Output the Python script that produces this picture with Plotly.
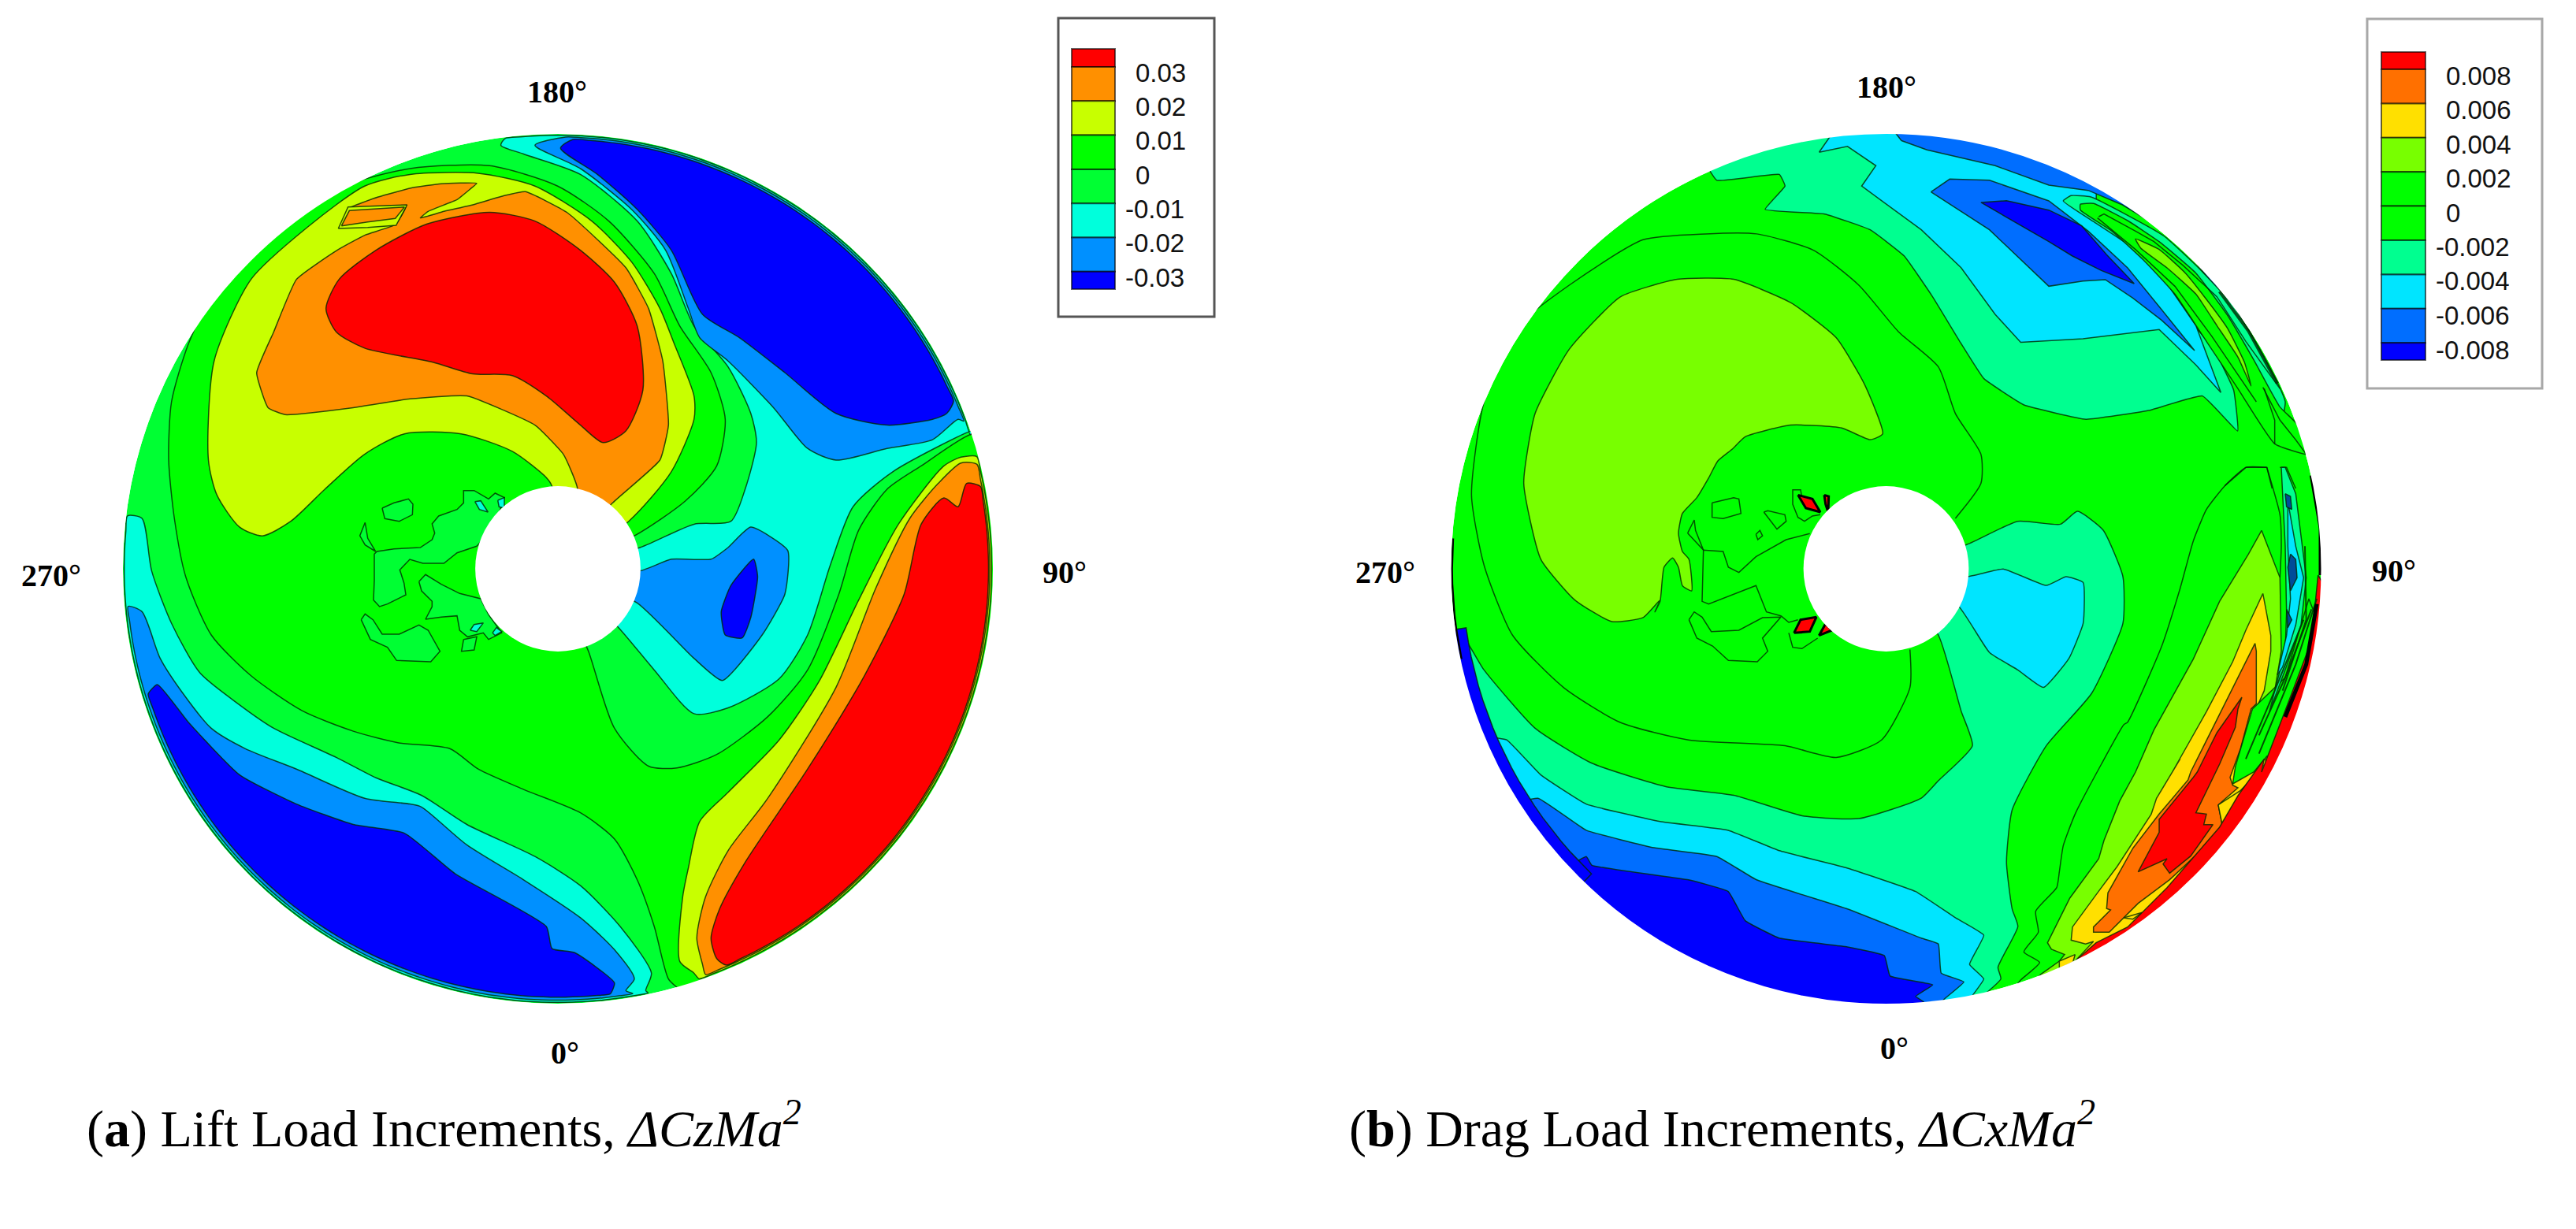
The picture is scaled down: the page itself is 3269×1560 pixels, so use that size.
import numpy as np
import plotly.graph_objects as go

W, H = 3269, 1560
# ---- digitising frames: crop name -> (left, top, x-scale, y-scale) of the reference crop
FRAMES = {"z1": (160, 140, .7207, .74), "z2": (1840, 140, .7207, .74),
          "z7": (420, 570, 1/3, 1/3), "z8": (2100, 570, 1/3, 1/3), "z9": (2600, 200, 1/3, 1/3),
          "z10": (2700, 560, 1/3, 1/3), "z11": (2500, 900, 1/3, 1/3), "z12": (400, 190, 1/3, 1/3)}
CENTER_A, CENTER_B, RADIUS = (708, 722), (2393.5, 722), 552
HOLE_R = 0.19

# ---- legends
lift_labels = ["0.03", "0.02", "0.01", "0", "-0.01", "-0.02", "-0.03"]
lift_colors = ["#FF0000", "#FF9000", "#C8FF00", "#00FF00", "#00FF33", "#00FFDC", "#0090FF", "#0000FF"]
drag_labels = ["0.008", "0.006", "0.004", "0.002", "0", "-0.002", "-0.004", "-0.006", "-0.008"]
drag_colors = ["#FF0000", "#FF7000", "#FFE000", "#78FF00", "#00FF00", "#00FF00", "#00FF90", "#00E5FF", "#006EFF", "#0000FF"]
C_R, C_O, C_Y, C_G0, C_G1, C_C, C_M, C_B = lift_colors
D_R, D_O, D_Y, D_L, D_G, _, D_T, D_C, D_M, D_B = drag_colors

# ---- panel (a) contour boundaries: segments are (frame, points) or ("rim", from_deg, to_deg, r)
a_center = [("z1", [(75,600),(80,500),(110,400),(160,300),(260,190),(380,130),(500,100),(640,95),(760,130),(850,190),(930,280),(975,370),(1030,450),(1055,530),(1040,610),(985,670),(895,730),(760,787),(815,930),(860,1060),(920,1125),(970,1128),(1040,1105),(1130,1040),(1200,960),(1255,830),(1290,720),(1340,650),(1400,610),(1490,555)]),
            ("rim", 17, -74, 1.03),
            ("z1", [(975,1510),(955,1490),(930,1400),(900,1320),(860,1250),(800,1205),(700,1165),(620,1130),(570,1095),(480,1085),(400,1065),(310,1030),(220,970),(150,900),(105,800),(85,700)])]
a_w1 = [("z7", [(195,225),(240,205),(295,190),(312,210),(310,250),(260,275),(205,265)])]
a_w2 = [("z7", [(555,370),(480,395),(430,435),(350,435),(300,420),(262,460),(278,510),(285,555),(215,590),(185,600),(162,575),(165,500),(165,400),(175,390),(240,380),(340,375),(385,345),(395,320),(385,285),(410,255),(480,230),(505,205),(505,158),(545,158),(600,190),(625,168),(660,185),(620,300)])]
a_w2b = [("z7", [(130,280),(140,340),(170,390),(130,365),(110,330)])]
a_w3 = [("z7", [(335,505),(360,478),(420,515),(490,550),(570,570),(600,630),(650,700),(600,725),(580,700),(520,715),(490,690),(480,635),(420,640),(360,648),(385,600),(385,580),(345,540)])]
a_w4 = [("z7", [(115,650),(130,628),(160,650),(195,705),(260,705),(335,670),(370,690),(415,770),(380,810),(250,805),(215,755),(150,725)])]
a_w5 = [("z7", [(505,725),(555,715),(545,765),(497,770)])]
a_dots = [[("z7", [(548,200),(570,197),(598,240),(565,230)])], [("z7", [(635,195),(660,185),(660,225),(640,220)])],
          [("z7", [(530,690),(545,668),(580,662),(555,695)])], [("z7", [(615,700),(630,680),(650,695),(625,710)])]]
a_yellow = [("z1", [(145,600),(155,430),(220,290),(320,200),(420,130),(500,110),(620,108),(720,130),(820,190),(890,260),(940,340),(965,400),(1000,490),(1000,530),(960,620),(885,705),(760,787),(750,645),(740,630),(680,585),(590,555),(490,555),(420,590),(350,650),(290,705),(240,730),(200,715),(160,660)])]
a_orange = [("z1", [(230,450),(260,380),(300,290)]),
            ("z12", [(80,385),(190,325),(305,285),(345,215),(130,222),(240,180),(370,145),(480,130),(615,128),(590,150),(540,190),(430,235),(400,260),(490,235),(600,210),(720,175),(800,160),(960,240)]),
            ("z1", [(880,270),(920,340),(945,430),(955,540),(940,600),(855,675),(760,787),(795,650),(770,590),(720,540),(600,490),(500,495),(400,510),(280,522),(250,510)])]
a_strip = [("z12", [(88,300),(125,218),(350,210),(308,288),(200,296)])]
a_sliver = [("z12", [(100,290),(130,232),(340,218),(305,262),(200,275)])]
a_red = [("z1", [(352,340),(375,290),(440,240),(530,195),(640,175),(720,190),(800,240),(860,295),(900,370),(910,480),(880,550),(840,570),(800,540),(740,490),(680,455),(610,452),(540,432),(420,408),(370,380)])]
a_cyan_tr = [("z1", [(660,60),(700,75),(800,110),(900,190),(960,280),(1000,370),(1060,440),(1100,520),(1110,570),(1090,650),(1065,705),(1000,710),(905,750),(760,787),(865,885),(930,960),(1000,1035),(1060,1025),(1150,975),(1200,900),(1240,780),(1280,680),(1350,620),(1490,550)]),
             ("rim", 18, 97, .997)]
a_mid_tr = [("z1", [(720,60),(800,100),(890,170),(950,240),(990,340),(1010,390),(1060,430),(1140,510),(1200,580),(1250,600),(1340,580),(1420,565),(1465,530)]),
            ("rim", 20, 89, .993)]
a_blue_tr = [("z1", [(765,65),(830,110),(900,170),(960,240),(1015,350),(1080,390),(1160,450),(1250,520),(1340,540),(1420,530),(1445,520)]),
             ("rim", 23, 88, .988)]
a_mid_h = [("z1", [(905,790),(960,770),(1030,770),(1060,750),(1100,715),(1165,755),(1160,830),(1120,900),(1050,978),(1000,940),(900,845),(760,787)])]
a_blue_h = [("z1", [(1105,770),(1112,800),(1100,870),(1085,905),(1055,900),(1048,860),(1065,815)])]
a_lr_y = [("rim", 15, -71, .997),
          ("z1", [(1000,1480),(975,1460),(980,1350),(990,1300),(1010,1220),(1060,1170),(1150,1080),(1220,980),(1290,840),(1360,710),(1440,610),(1470,595)])]
a_lr_o = [("rim", 14, -70, .993),
          ("z1", [(1015,1465),(1005,1420),(1020,1350),(1060,1270),(1130,1180),(1250,990),(1320,820),(1380,700),(1430,640),(1470,605)])]
a_lr_r = [("rim", 11, -67, .99),
          ("z1", [(1040,1455),(1030,1420),(1045,1370),(1090,1290),(1200,1130),(1300,970),(1370,830),(1400,710),(1440,665),(1465,680),(1480,640)])]
a_ll_c = [("z1", [(28,700),(45,790),(80,880),(130,965),(200,1020),(260,1060),(370,1110),(440,1145),(520,1175),(600,1225),(720,1280),(800,1330),(870,1400),(925,1480),(915,1510)]),
          ("rim", -78, -187, .997)]
a_ll_m = [("z1", [(28,860),(60,940),(100,1000),(150,1060),(210,1095),(300,1130),(420,1180),(500,1190),(520,1195),(600,1260),(700,1320),(800,1385),(860,1440),(895,1490),(880,1510)]),
          ("rim", -80, -175, .992)]
a_ll_b = [("z1", [(55,985),(110,1050),(200,1140),(300,1190),(400,1225),(490,1240),(580,1310),(740,1400),(750,1438),(790,1445),(860,1497)]),
          ("rim", -83, -163, .985)]

# ---- panel (b) contour boundaries
b_lobe = [("z2", [(130,640),(150,520),(210,410),(300,320),(400,290),(500,290),(600,330),(680,390),(730,470),(762,555),(740,565),(690,545),(600,540),(520,560)]),
          ("z8", [(295,0),(240,45),(205,110),(160,185),(105,245),(90,320),(105,390),(130,420),(140,540),(105,520),(90,450),(68,415),(35,450),(20,580),(0,620)]),
          ("z2", [(370,840),(340,870),(285,877),(220,840),(160,770)])]
b_line0 = [("z2", [(810,925),(810,990),(760,1080),(680,1110),(590,1090),(420,1080),(300,1050),(200,990),(110,900),(60,780),(38,660),(60,500),(120,370),(210,300),(340,222),(450,212),(540,212),(640,240),(720,300),(790,380),(860,440),(890,520),(935,590),(935,640),(890,700)])]
b_teal_top = [("z2", [(470,120),(580,110),(590,130),(555,170),(660,178),(740,205),(800,250),(850,320),(900,400),(940,460),(1010,505),(1120,530),(1230,515),(1325,490),(1387,550),(1380,480),(1345,410),(1240,290),(1130,200)]),
              ("rim", 64, 114, 1.03)]
b_teal_low = [("z2", [(20,900),(60,960),(150,1060),(250,1120),(380,1160),(500,1175),(620,1210),(720,1215),(830,1180),(860,1150),(920,1090),(900,1030),(860,900),(768,786),(910,745),(1000,705),(1075,710),(1105,688),(1150,720),(1185,800),(1185,880),(1130,1000),(1050,1090),(990,1200),(980,1290),(990,1370),(1000,1400),(965,1470),(970,1490),(920,1535)]),
              ("rim", -79, -171, 1.03)]
b_cyan_low = [("z2", [(70,1075),(100,1080),(160,1140),(240,1190),(370,1220),(490,1235),(580,1270),(700,1300),(820,1340),(890,1385),(940,1415),(915,1465),(940,1490),(915,1525)]),
              ("rim", -80, -158, 1.03)]
b_blue_low = [("z2", [(155,1180),(240,1235),(360,1265),(470,1280),(540,1320),(700,1370),(830,1420),(860,1430),(865,1480),(905,1495),(870,1525)]),
              ("rim", -84, -148, 1.03)]
b_dark_low = [("z2", [(240,1280),(250,1295),(420,1320),(490,1340),(520,1390),(580,1420),(700,1435),(765,1450),(775,1485),(850,1500),(820,1520),(835,1530),(810,1545)]),
              ("rim", -87, -137, 1.03)]
b_dark_rim = [("rim", 188, 226, 1.03), ("rim", 226, 188, .975)]
b_cyan_h = [("z2", [(910,800),(975,787),(1050,815),(1085,800),(1115,810),(1115,880),(1090,940),(1045,990),(1000,960),(950,930),(895,850),(768,786)])]
b_cyan_top = [("z2", [(650,72),(700,62),(750,95),(725,130),(830,205),(900,270),(960,350),(1005,398)]),
              ("z9", [(130,690),(280,672),(420,655),(560,790),(655,895),(560,640),(450,480),(300,320),(180,230)]),
              ("rim", 62, 96, 1.03)]
b_blue_top = [("z2", [(795,52),(840,68),(960,95)]), ("z9", [(0,105),(150,125),(280,180),(430,270),(560,400),(640,500)]), ("rim", 40, 90, 1.03)]
b_blue_w = [("z2", [(847,140),(880,118),(950,120)]), ("z9", [(0,165),(150,280),(300,420),(430,580),(555,735),(430,620),(320,535),(215,465),(130,470),(0,490)]), ("z2", [(950,205)])]
b_dark_w = [("z2", [(935,158),(980,155)]), ("z9", [(0,200),(125,260),(220,370),(325,480),(200,430),(90,375),(0,320)]), ("z2", [(1000,195)])]
b_w90 = [("z9", [(55,165),(85,145),(160,150),(300,220),(440,300),(570,420),(700,560),(820,760),(900,930),(860,1090),(790,930),(720,820),(650,720),(560,620),(430,450),(300,330),(180,250)])]
b_w00 = [("z9", [(120,178),(170,175),(300,240),(420,320),(560,440),(680,600),(780,770),(880,950),(945,1015),(990,1130),(860,1090),(720,880),(600,700),(480,520),(360,390),(240,280),(120,200)])]
b_w78 = [("z9", [(330,310),(420,350),(520,440),(600,540),(680,650),(745,780),(770,870),(720,760),(640,640),(560,520),(450,420),(350,345)])]
b_lines_w = [[("z9", [(185,230),(330,350),(480,490),(620,680),(790,930)])],
             [("z9", [(190,225),(210,215),(330,280),(400,320),(510,410),(640,530),(750,700),(880,880)])],
             [("z9", [(820,880),(860,1000),(860,1090)])],
             [("z9", [(815,875),(880,1000),(940,1075),(980,1130)])],
             [("z9", [(880,1180),(905,1180),(940,1260)])],
             [("z9", [(670,1250),(750,1180),(830,1180),(850,1260)])]]
b_line1 = [("z10", [(530,100),(450,100),(370,170),(300,260),(250,380),(200,560),(130,780),(0,1070)]),
           ("z11", [(585,60),(500,210),(400,400),(355,520),(340,620),(330,680),(250,770),(260,850),(205,925),(265,965),(195,1030),(170,1060)])]
b_line1b = [("z10", [(530,100),(580,280),(585,400),(580,520)])]
b_teal_rs = [("z10", [(585,100),(600,100),(640,200),(665,400),(680,520),(660,700),(600,870),(540,1030),(560,950),(600,800),(605,650),(600,400),(590,200)])]
b_cyan_rs = [("z10", [(610,230),(640,400),(670,520),(640,700),(590,860),(570,890),(605,740),(620,600),(610,400)])]
b_dark_rs = [[("z10", [(620,430),(640,450),(645,520),(620,570),(610,480)])], [("z10", [(605,640),(625,680),(610,710)])], [("z10", [(600,200),(620,210),(625,260),(605,250)])]]
b_l78 = [("z10", [(510,340),(460,430),(350,610),(250,830),(100,1100),(30,1260)]),
         ("z11", [(570,350),(510,500),(490,570),(380,720),(340,800),(295,890),(310,915),(360,935),(340,960),(270,1010),(240,1040)]),
         ("rim", -73, -25, 1.03),
         ("z10", [(560,950),(585,800),(580,520)])]
b_yellow = [("z10", [(515,580),(450,720),(400,840),(300,1030),(170,1260)]),
            ("z11", [(800,190),(710,340),(690,400),(560,600),(500,680),(390,830),(385,880),(440,895),(470,885),(400,960),(340,990),(340,960),(400,935)]),
            ("rim", -66, -30, 1.03),
            ("z10", [(480,1040),(520,950),(545,800),(545,740)])]
b_orange = [("z10", [(485,770),(420,900),(340,1060),(240,1260)]),
            ("z11", [(830,270),(720,400),(620,530),(525,700),(520,760),(535,765),(470,830),(470,850),(530,850),(545,835),(640,740),(760,650),(900,520),(960,440),(945,365),(1020,300),(1000,290),(990,260),(1030,150),(1070,0)]),
            ("z10", [(490,1000),(490,800)])]
b_red = [("z10", [(435,975),(340,1110),(265,1260)]),
         ("z11", [(850,260),(720,420),(720,470),(640,620),(750,570),(735,590),(760,625),(840,560),(925,440),(890,440),(900,400),(860,395),(950,210),(1010,70),(1020,0)])]
b_or_small = [("z11", [(585,795),(655,775),(620,800)])]
b_green_nest = [("z11", [(1075,0),(1010,220),(1000,285),(1080,240),(1130,180)]), ("rim", -28, -10, 1.03), ("z10", [(690,600),(600,900)])]
b_y_finger = [("z11", [(945,365),(1030,310),(1100,240),(1080,290),(1000,400),(960,440)])]
b_red_rim = [("z10", [(725,510),(700,760),(610,1000),(510,1260)]),
             ("z11", [(1120,190),(1020,330),(950,450),(750,680),(600,830),(480,890),(400,960)]),
             ("rim", -67, -4, 1.03)]
b_diamonds = [[("z8", [(545,175),(600,190),(630,240),(575,225)])], [("z8", [(645,175),(662,180),(660,240),(650,210)])],
              [("z8", [(530,700),(555,650),(615,640),(590,695)])], [("z8", [(625,710),(650,665),(675,690),(650,700)])]]
b_lines_c = [[("z8", [(125,320),(150,270),(155,310),(185,385),(125,320)])],
             [("z8", [(480,635),(425,620),(385,520),(205,590),(180,580),(185,385),(260,390),(280,450),(320,470),(385,410),(500,345),(590,322)])],
             [("z8", [(130,650),(150,620),(180,640),(215,695),(320,690),(410,642),(480,640),(410,720),(430,770),(390,810),(280,805),(220,750),(160,720),(130,650)])],
             [("z8", [(218,205),(300,185),(320,190),(328,245),(260,265),(218,260),(218,205)])],
             [("z8", [(415,240),(430,235),(495,250),(500,275),(465,305),(415,240)])],
             [("z8", [(385,325),(400,310),(410,330),(392,345),(385,325)])],
             [("z8", [(630,250),(600,255),(570,275),(545,260),(525,210),(525,155),(555,155),(560,185)])],
             [("z8", [(480,635),(510,660),(545,650)])],
             [("z8", [(510,700),(525,755),(560,760),(620,720)])]]
b_rim_dark = [[("z10", [(700,130),(735,330),(735,510)])], [("z10", [(720,620),(680,850),(600,1050)])]]
b_rim_left = [("rim", 176, 192, .998)]
b_rim_speck = [("z9", [(650,510),(760,660),(870,860)])]
b_rim_nest = [[("z10", [(700,640),(600,900),(500,1120)])], [("z10", [(670,680),(560,950),(450,1210)])], [("z10", [(720,600),(640,850),(500,1190)])], [("z10", [(675,400),(680,680),(590,950)])]]


def to_unit(segments, center):
    xs, ys = [], []
    for seg in segments:
        if seg[0] == "rim":
            ang = np.radians(np.linspace(seg[1], seg[2], max(3, int(abs(seg[2] - seg[1]) / 2) + 1)))
            xs += list(seg[3] * np.cos(ang)); ys += list(seg[3] * np.sin(ang))
        else:
            left, top, sx, sy = FRAMES[seg[0]]
            for u, v in seg[1]:
                xs.append((left + u * sx - center[0]) / RADIUS)
                ys.append((center[1] - (top + v * sy)) / RADIUS)
    return xs, ys


fig = go.Figure()
EDGE = "rgba(0,40,0,0.8)"


def style(color, width, smooth):
    if smooth:
        return dict(color=color, width=width, shape="spline", smoothing=smooth)
    return dict(color=color, width=width)


def region(segments, color, panel, edge=EDGE, width=1.5, smooth=0):
    center = CENTER_A if panel == 1 else CENTER_B
    x, y = to_unit(segments, center)
    suffix = "" if panel == 1 else "2"
    fig.add_trace(go.Scatter(x=x + x[:1], y=y + y[:1], mode="lines", fill="toself", fillcolor=color,
                             line=style(edge, width, smooth), hoverinfo="skip", showlegend=False,
                             xaxis="x" + suffix, yaxis="y" + suffix))


def contour(segments, panel, color=EDGE, width=1.5, smooth=0):
    center = CENTER_A if panel == 1 else CENTER_B
    x, y = to_unit(segments, center)
    suffix = "" if panel == 1 else "2"
    fig.add_trace(go.Scatter(x=x, y=y, mode="lines", line=style(color, width, smooth), hoverinfo="skip",
                             showlegend=False, xaxis="x" + suffix, yaxis="y" + suffix))


S = 0.7
region(a_center, C_G0, 1, smooth=S)
for seg, col in [(a_w1, C_G1), (a_w2, C_G1), (a_w2b, C_G1), (a_w3, C_G1), (a_w4, C_G1), (a_w5, C_G1)]:
    region(seg, col, 1)
for seg in a_dots:
    region(seg, C_C, 1)
for seg, col, sm in [(a_yellow, C_Y, S), (a_orange, C_O, .4), (a_strip, C_Y, 0), (a_sliver, C_O, 0), (a_red, C_R, S), (a_cyan_tr, C_C, S),
                     (a_mid_tr, C_M, S), (a_blue_tr, C_B, S), (a_mid_h, C_M, .5), (a_blue_h, C_B, .5), (a_lr_y, C_Y, S), (a_lr_o, C_O, S),
                     (a_lr_r, C_R, S), (a_ll_c, C_C, S), (a_ll_m, C_M, S), (a_ll_b, C_B, .5)]:
    region(seg, col, 1, smooth=sm)

region(b_lobe, D_L, 2, smooth=.5)
contour(b_line0, 2, smooth=.6)
for seg, col, sm in [(b_teal_top, D_T, .3), (b_teal_low, D_T, .5), (b_cyan_low, D_C, .3), (b_blue_low, D_M, .3), (b_dark_low, D_B, .3),
                     (b_dark_rim, D_B, 0), (b_cyan_h, D_C, .4), (b_cyan_top, D_C, 0), (b_blue_top, D_M, 0), (b_blue_w, D_M, 0),
                     (b_dark_w, D_B, 0), (b_w90, D_T, .4), (b_w00, D_G, .4), (b_w78, D_L, .4)]:
    region(seg, col, 2, smooth=sm)
for seg in b_lines_w:
    contour(seg, 2)
contour(b_line1, 2, smooth=.5); contour(b_line1b, 2, smooth=.5)
for seg, col in [(b_l78, D_L), (b_yellow, D_Y), (b_orange, D_O), (b_red, D_R), (b_or_small, D_Y), (b_green_nest, D_G),
                 (b_y_finger, D_Y), (b_red_rim, D_R), (b_teal_rs, D_T), (b_cyan_rs, D_C)]:
    region(seg, col, 2)
for seg in b_dark_rs:
    region(seg, "#004C99", 2)
for seg in b_rim_nest:
    contour(seg, 2, color="rgba(0,60,0,0.9)", width=2)
contour(b_rim_speck, 2, color="rgba(0,40,0,0.8)", width=4)
for seg in b_rim_dark:
    contour(seg, 2, color="#000000", width=5)
contour(b_rim_left, 2, color="#000000", width=2.5)
for seg in b_lines_c:
    contour(seg, 2)
for seg in b_diamonds:
    region(seg, D_R, 2, edge="#000000", width=3)

# ---- axes
span = 1.12
half = span * RADIUS
for name_x, name_y, c in [("xaxis", "yaxis", CENTER_A), ("xaxis2", "yaxis2", CENTER_B)]:
    fig.update_layout(**{
        name_x: dict(domain=[(c[0] - half) / W, (c[0] + half) / W], range=[-span, span], visible=False, fixedrange=True),
        name_y: dict(domain=[1 - (c[1] + half) / H, 1 - (c[1] - half) / H], range=[-span, span], visible=False, fixedrange=True),
    })

shapes, notes = [], []
for sfx, c in [("", CENTER_A), ("2", CENTER_B)]:
    xr, yr = "x" + sfx, "y" + sfx
    shapes.append(dict(type="circle", xref=xr, yref=yr, x0=-1, x1=1, y0=-1, y1=1, layer="below",
                       fillcolor=C_G1 if sfx == "" else D_G, line=dict(width=0)))
    shapes.append(dict(type="circle", xref=xr, yref=yr, x0=-1.06, x1=1.06, y0=-1.06, y1=1.06, layer="above",
                       fillcolor="rgba(0,0,0,0)", line=dict(color="white", width=2 * .06 * RADIUS)))
    shapes.append(dict(type="circle", xref=xr, yref=yr, x0=-HOLE_R, x1=HOLE_R, y0=-HOLE_R, y1=HOLE_R, layer="above",
                       fillcolor="white", line=dict(width=0)))


def px_rect(x0, y0, x1, y1, **kw):
    return dict(type="rect", xref="paper", yref="paper", x0=x0 / W, x1=x1 / W, y0=1 - y1 / H, y1=1 - y0 / H, layer="above", **kw)


def note(x, y, text, size, family, anchor="center", color="#000000"):
    notes.append(dict(x=x / W, y=1 - y / H, xref="paper", yref="paper", text=text, showarrow=False, xanchor=anchor,
                      yanchor="middle", font=dict(size=size, family=family, color=color)))


def legend(box, bar, first, step, labels, colors, x_pos, x_neg, label_y, frame):
    shapes.append(px_rect(*box, fillcolor="white", line=dict(color=frame, width=3)))
    edges = [bar[1], bar[1] + first] + [bar[1] + first + step * (i + 1) for i in range(len(colors) - 2)] + [bar[3]]
    for i, col in enumerate(colors):
        shapes.append(px_rect(bar[0], edges[i], bar[2], edges[i + 1], fillcolor=col, line=dict(color="rgba(0,0,0,0.6)", width=2)))
    for i, lab in enumerate(labels):
        note(x_neg if lab.startswith("-") else x_pos, label_y + i * (step + .1), lab, 33, "Liberation Sans", "left", "#111111")


legend((1343, 23, 1541, 402), (1360, 62, 1415, 367), 23, 43.3, lift_labels, lift_colors, 1439, 1426, 92, "#555555")
legend((3004, 24, 3226, 493), (3022, 66, 3078, 457), 22, 43.4, drag_labels, drag_colors, 3102, 3089, 96, "#A8A8A8")

SERIF = "Liberation Serif"
angle_labels = ["180°", "0°", "270°", "90°"]
for lab, pos in zip(angle_labels, [(707, 117), (717, 1336), (65, 730), (1351, 726)]):
    note(pos[0], pos[1], "<b>" + lab + "</b>", 40, SERIF)
for lab, pos in zip(angle_labels, [(2394, 111), (2404, 1330), (1758, 726), (3038, 724)]):
    note(pos[0], pos[1], "<b>" + lab + "</b>", 40, SERIF)
SUP = "<i><sup>2</sup></i>"
note(108, 1428, "(<b>a</b>) Lift Load Increments, <i>ΔCzMa</i>" + SUP, 66, SERIF, "left")
note(1710, 1428, "(<b>b</b>) Drag Load Increments, <i>ΔCxMa</i>" + SUP, 66, SERIF, "left")

fig.update_layout(width=W, height=H, margin=dict(l=0, r=0, t=0, b=0), paper_bgcolor="white", plot_bgcolor="white",
                  shapes=shapes, annotations=notes, showlegend=False)
fig.write_html("out.html", post_script="document.body.style.margin='0';", config=dict(displayModeBar=False))
